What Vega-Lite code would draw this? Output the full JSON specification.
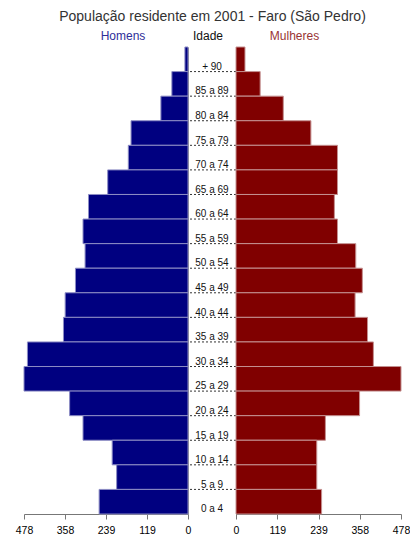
{
  "$schema": "https://vega.github.io/schema/vega-lite/v6.json",
  "padding": {"left": 15, "top": 9, "right": 5, "bottom": 5},
  "background": "white",
  "bounds": "flush",
  "spacing": 0,
  "title": {"text": "População residente em 2001 - Faro (São Pedro)", "font": "Liberation Sans", "fontSize": 14, "fontWeight": "normal", "color": "#333333", "anchor": "middle", "offset": 6},
  "config": {"view": {"stroke": null}, "font": "Liberation Sans"},
  "datasets": {
    "pop": [
      {"idade": "+ 90", "homens": 9, "mulheres": 26},
      {"idade": "85 a 89", "homens": 47, "mulheres": 70},
      {"idade": "80 a 84", "homens": 79, "mulheres": 137},
      {"idade": "75 a 79", "homens": 166, "mulheres": 217},
      {"idade": "70 a 74", "homens": 174, "mulheres": 294},
      {"idade": "65 a 69", "homens": 234, "mulheres": 294},
      {"idade": "60 a 64", "homens": 290, "mulheres": 285},
      {"idade": "55 a 59", "homens": 306, "mulheres": 294},
      {"idade": "50 a 54", "homens": 300, "mulheres": 347},
      {"idade": "45 a 49", "homens": 328, "mulheres": 366},
      {"idade": "40 a 44", "homens": 358, "mulheres": 345},
      {"idade": "35 a 39", "homens": 363, "mulheres": 381},
      {"idade": "30 a 34", "homens": 468, "mulheres": 398},
      {"idade": "25 a 29", "homens": 478, "mulheres": 478},
      {"idade": "20 a 24", "homens": 345, "mulheres": 358},
      {"idade": "15 a 19", "homens": 306, "mulheres": 259},
      {"idade": "10 a 14", "homens": 221, "mulheres": 234},
      {"idade": "5 a 9", "homens": 208, "mulheres": 234},
      {"idade": "0 a 4", "homens": 259, "mulheres": 248}
    ]
  },
  "hconcat": [
    {
      "width": 164,
      "height": 467,
      "title": {"text": "Homens", "fontSize": 12, "fontWeight": "normal", "color": "#2e2e99", "dx": 17, "offset": 4},
      "data": {"name": "pop"},
      "mark": {"type": "bar", "color": "#000080", "stroke": "#8c8cc4", "strokeWidth": 1},
      "encoding": {
        "y": {"field": "idade", "type": "nominal", "sort": null, "scale": {"paddingInner": 0, "paddingOuter": 0},
              "axis": {"orient": "right", "labels": false, "ticks": false, "title": null, "domainColor": "#888888"}},
        "x": {"field": "homens", "type": "quantitative", "scale": {"domain": [0, 478], "reverse": true, "nice": false},
              "axis": {"values": [0, 119.5, 239, 358.5, 478], "labelExpr": "'' + floor(datum.value)", "grid": false, "title": null,
                       "tickSize": 5, "tickColor": "#777777", "domainColor": "#777777", "labelColor": "#000000", "labelFontSize": 10.5, "labelPadding": 6, "labelFlush": false}}
      }
    },
    {
      "width": 48,
      "height": 467,
      "title": {"text": "Idade", "fontSize": 12, "fontWeight": "normal", "color": "#111111", "dx": -4, "offset": 4},
      "data": {"name": "pop"},
      "layer": [
        {
          "transform": [{"filter": "datum.idade != '0 a 4'"}],
          "mark": {"type": "rule", "color": "#333333", "strokeDash": [2, 2], "strokeWidth": 1},
          "encoding": {
            "y": {"field": "idade", "type": "nominal", "sort": null, "bandPosition": 1, "scale": {"paddingInner": 0, "paddingOuter": 0}, "axis": null}
          }
        },
        {
          "mark": {"type": "text", "fontSize": 10, "color": "#111111", "baseline": "alphabetic", "align": "center"},
          "encoding": {
            "y": {"field": "idade", "type": "nominal", "sort": null, "bandPosition": 0.93, "axis": null},
            "text": {"field": "idade"}
          }
        }
      ]
    },
    {
      "width": 165,
      "height": 467,
      "title": {"text": "Mulheres", "fontSize": 12, "fontWeight": "normal", "color": "#993333", "dx": -24, "offset": 4},
      "data": {"name": "pop"},
      "mark": {"type": "bar", "color": "#800000", "stroke": "#c49090", "strokeWidth": 1},
      "encoding": {
        "y": {"field": "idade", "type": "nominal", "sort": null, "scale": {"paddingInner": 0, "paddingOuter": 0},
              "axis": {"orient": "left", "labels": false, "ticks": false, "title": null, "domainColor": "#444444"}},
        "x": {"field": "mulheres", "type": "quantitative", "scale": {"domain": [0, 478], "nice": false},
              "axis": {"values": [0, 119.5, 239, 358.5, 478], "labelExpr": "'' + floor(datum.value)", "grid": false, "title": null,
                       "tickSize": 5, "tickColor": "#777777", "domainColor": "#777777", "labelColor": "#000000", "labelFontSize": 10.5, "labelPadding": 6, "labelFlush": false}}
      }
    }
  ]
}
